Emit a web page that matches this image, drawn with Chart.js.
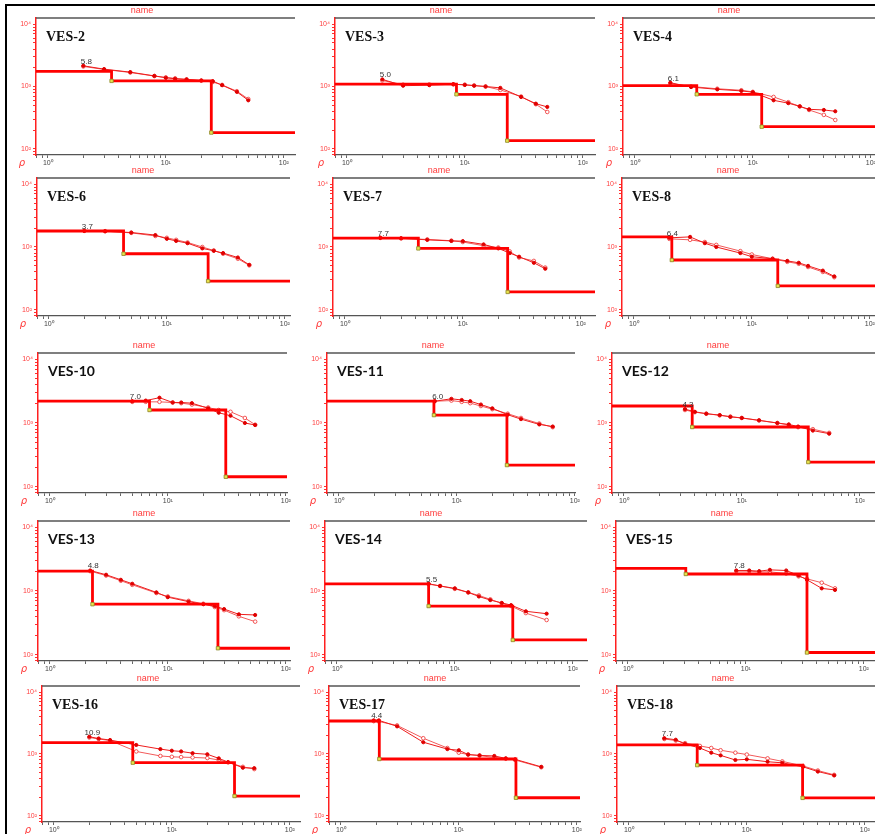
<!DOCTYPE html>
<html>
<head>
<meta charset="utf-8">
<script src="https://cdn.jsdelivr.net/npm/chart.js@4.4.0/dist/chart.umd.min.js"></script>
<style>
  html, body { margin: 0; padding: 0; background: #fff; }
  #sheet { position: relative; width: 875px; height: 834px; overflow: hidden; background: #fff; }
  #frame { position: absolute; left: 5px; top: 4px; right: -10px; bottom: -10px;
           border-left: 2px solid #000; border-top: 2px solid #000; }
  #sheet canvas { position: absolute; }
</style>
</head>
<body>
<div id="sheet"><div id="frame"></div></div>
<script>
// sounding names and fit error label, in reading order (3 per row)
const panelNames = ['VES-2', 'VES-3', 'VES-4', 'VES-6', 'VES-7', 'VES-8', 'VES-10', 'VES-11',
                    'VES-12', 'VES-13', 'VES-14', 'VES-15', 'VES-16', 'VES-17', 'VES-18'];
const rmsLabels = ['5.8', '5.0', '6.1', '3.7', '7.7', '6.4', '7.0', '6.0', '4.3', '4.8', '5.5', '7.8', '10.9', '4.4', '7.7'];

// layered model: resistivity of each layer (ohm.m) and depth of the interfaces (m)
const layerRho = [
  [1750, 1230, 182], [1090, 750, 135], [1035, 750, 226],
  [1800, 780, 286], [1390, 950, 192], [1450, 620, 240],
  [2210, 1600, 143], [2210, 1330, 218], [1850, 865, 243],
  [2060, 620, 126], [1290, 580, 170], [2270, 1850, 108],
  [1525, 723, 209], [3420, 830, 196], [1400, 660, 195]
];
const layerDepth = [
  [3.47, 24.3], [8.5, 22.9], [3.35, 11.9],
  [4.3, 22.4], [4.2, 24], [2.1, 16.6],
  [7.0, 31], [6.4, 26.6], [3.8, 36.6],
  [2.3, 26.6], [6.0, 31], [3.1, 33],
  [4.67, 34], [2.12, 30.5], [3.8, 29.7]
];

// field curve: AB/2 spacing, observed and calculated apparent resistivity
const spacingAB2 = [
  [2, 3, 5, 8, 10, 12, 15, 20, 25, 30, 40, 50],
  [2, 3, 5, 8, 10, 12, 15, 20, 30, 40, 50],
  [2, 3, 5, 8, 10, 15, 20, 25, 30, 40, 50],
  [2, 3, 5, 8, 10, 12, 15, 20, 25, 30, 40, 50],
  [2, 3, 5, 8, 10, 15, 20, 25, 30, 40, 50],
  [2, 3, 4, 5, 8, 10, 15, 20, 25, 30, 40, 50],
  [5, 6.5, 8.5, 11, 13, 16, 22, 27, 34, 45, 55],
  [6.5, 9, 11, 13, 16, 20, 27, 35, 50, 65],
  [3.3, 4, 5, 6.5, 8, 10, 14, 20, 25, 30, 40, 55],
  [2.2, 3, 4, 5, 8, 10, 15, 20, 25, 30, 40, 55],
  [6, 7.5, 10, 13, 16, 20, 25, 30, 40, 60],
  [8.3, 10.7, 13, 16, 22, 28, 33, 44, 57],
  [2, 2.4, 3, 5, 8, 10, 12, 15, 20, 25, 30, 40, 50],
  [1.9, 2.1, 3, 5, 8, 10, 12, 15, 20, 25, 30, 50],
  [2, 2.5, 3, 4, 5, 6, 8, 10, 15, 20, 30, 40, 55]
];
const rhoObserved = [
  [2150, 1900, 1700, 1480, 1380, 1330, 1300, 1250, 1220, 1050, 820, 600],
  [1300, 1030, 1050, 1090, 1060, 1030, 1000, 950, 680, 530, 470],
  [1150, 980, 900, 850, 810, 600, 540, 480, 430, 420, 400],
  [1800, 1780, 1700, 1550, 1350, 1250, 1150, 950, 870, 800, 680, 520],
  [1400, 1380, 1300, 1250, 1240, 1100, 950, 800, 700, 560, 450],
  [1400, 1450, 1150, 1000, 800, 700, 650, 600, 560, 500, 420, 340],
  [2200, 2250, 2500, 2100, 2100, 2050, 1700, 1450, 1300, 1000, 930],
  [2200, 2400, 2300, 2200, 1950, 1700, 1350, 1150, 950, 880],
  [1650, 1500, 1400, 1330, 1250, 1200, 1100, 1000, 950, 880, 760, 680],
  [2100, 1800, 1500, 1300, 950, 800, 680, 620, 580, 520, 430, 420],
  [1300, 1200, 1100, 950, 820, 720, 650, 600, 480, 440],
  [2100, 2100, 2050, 2150, 2100, 1750, 1500, 1100, 1040],
  [1900, 1780, 1680, 1400, 1200, 1130, 1100, 1030, 990, 850, 740, 600, 590],
  [3500, 3500, 2800, 1550, 1200, 1150, 980, 950, 930, 850, 820, 620],
  [1800, 1700, 1450, 1250, 1050, 950, 800, 820, 750, 720, 620, 520, 450]
];
const rhoCalculated = [
  [2100, 1880, 1680, 1470, 1400, 1350, 1300, 1240, 1180, 1060, 840, 630],
  [1250, 1070, 1080, 1080, 1070, 1040, 1000, 880, 690, 520, 390],
  [1120, 1000, 920, 870, 820, 680, 560, 480, 420, 350, 290],
  [1820, 1790, 1680, 1500, 1400, 1300, 1180, 1000, 880, 780, 650, 510],
  [1400, 1370, 1320, 1260, 1200, 1050, 980, 850, 680, 600, 470],
  [1350, 1300, 1200, 1080, 860, 760, 650, 580, 540, 480, 400, 330],
  [2150, 2150, 2150, 2100, 2050, 1950, 1750, 1600, 1500, 1200, 940],
  [2200, 2250, 2150, 2050, 1850, 1650, 1400, 1200, 980, 860],
  [1600, 1480, 1400, 1320, 1260, 1200, 1100, 1000, 930, 860, 800, 700],
  [2050, 1750, 1450, 1250, 930, 820, 700, 630, 560, 500, 400, 330],
  [1280, 1200, 1080, 950, 850, 740, 640, 580, 450, 350],
  [2050, 2050, 2000, 2000, 1880, 1700, 1550, 1350, 1100],
  [1850, 1750, 1650, 1100, 930, 900, 890, 880, 860, 800, 730, 620, 570],
  [3400, 3350, 2900, 1800, 1250, 1050, 980, 940, 880, 840, 800, 610],
  [1750, 1650, 1500, 1350, 1250, 1150, 1050, 980, 850, 760, 640, 540, 460]
];

// page layout: plot-area edges of every panel
const rowTop = [18, 178, 353, 521, 686];
const rowBottom = [155, 316, 493, 661, 822];
const colLeft = [[36, 335, 623], [37, 333, 622], [38, 327, 612], [38, 325, 616], [42, 329, 617]];
const colRight = [[295, 595, 875], [290, 595, 875], [287, 575, 875], [290, 587, 875], [300, 580, 875]];
const serifRows = [true, true, false, false, true];
const DECADE_X = 118;
const PAD_L = 32, PAD_T = 14, PAD_B = 14, PAD_R = 8;

const SUP = { 0: '\u2070', 1: '\u00b9', 2: '\u00b2', 3: '\u00b3', 4: '\u2074' };
function powLabel(v) {
  const e = Math.log10(v);
  if (Math.abs(e - Math.round(e)) < 1e-6 && SUP[Math.round(e)]) return '10' + SUP[Math.round(e)];
  return '';
}
function logTicks(min, max) {
  const out = [];
  for (let e = -1; e <= 4; e++) {
    for (let m = 1; m <= 9; m++) {
      const v = m * Math.pow(10, e);
      if (v >= min * 0.999 && v <= max * 1.001) out.push({ value: v });
    }
  }
  return out;
}

// texts around each plot
const panelDecor = {
  id: 'panelDecor',
  afterDraw(chart, args, opts) {
    const { ctx, chartArea: { left, top, right, bottom } } = chart;
    const xs = chart.scales.x, ys = chart.scales.y;
    ctx.save();
    ctx.strokeStyle = '#555';
    ctx.lineWidth = 1.3;
    ctx.beginPath();
    ctx.moveTo(left, top);
    ctx.lineTo(right, top);
    ctx.stroke();

    ctx.fillStyle = '#ff3b3b';
    ctx.textAlign = 'center';
    ctx.font = '9px "Liberation Sans"';
    ctx.fillText('name', left + 106, top - 5);
    ctx.font = 'italic 10px "DejaVu Sans"';
    ctx.fillText('\u03c1', left - 14, bottom + 11);

    ctx.fillStyle = '#111';
    ctx.textAlign = 'left';
    ctx.font = opts.serif ? 'bold 14px "Liberation Serif"' : 'bold 14px Lato';
    ctx.fillText(opts.title, left + 10, top + 23);

    ctx.fillStyle = '#333';
    ctx.textAlign = 'center';
    ctx.font = '8px "Liberation Sans"';
    ctx.fillText(opts.rms, xs.getPixelForValue(opts.rmsAt[0]) + 3, ys.getPixelForValue(opts.rmsAt[1]) - 2);
    ctx.restore();
  }
};

const sheet = document.getElementById('sheet');

panelNames.forEach(function (name, i) {
  const row = Math.floor(i / 3), col = i % 3;
  const L = colLeft[row][col], R = colRight[row][col];
  const T = rowTop[row], B = rowBottom[row];

  const xmin = Math.pow(10, -0.1);
  const xmax = Math.pow(10, (R - L) / DECADE_X - 0.1);
  const ymin = Math.pow(10, 1.9), ymax = Math.pow(10, 4.1);

  const cv = document.createElement('canvas');
  cv.width = R - L + PAD_L + PAD_R;
  cv.height = B - T + PAD_T + PAD_B;
  cv.style.left = (L - PAD_L) + 'px';
  cv.style.top = (T - PAD_T) + 'px';
  sheet.appendChild(cv);

  // step model: top layer from the surface, last layer open to the right
  const rho = layerRho[i], dep = layerDepth[i];
  const modelPts = [{ x: 0.1, y: rho[0] }];
  dep.forEach((d, k) => modelPts.push({ x: d, y: rho[k + 1] }));
  modelPts.push({ x: 1000, y: rho[rho.length - 1] });

  const ab = spacingAB2[i];
  const obsPts = ab.map((a, k) => ({ x: a, y: rhoObserved[i][k] }));
  const calcPts = ab.map((a, k) => ({ x: a, y: rhoCalculated[i][k] }));

  new Chart(cv, {
    type: 'line',
    data: {
      datasets: [
        {
          label: 'model', data: modelPts, stepped: 'before',
          borderColor: '#ff0000', borderWidth: 2.8,
          pointStyle: 'rect',
          pointRadius: c => (c.dataIndex > 0 && c.dataIndex < modelPts.length - 1) ? 2.4 : 0,
          pointBackgroundColor: '#e8e24c', pointBorderColor: '#8c8a2c', pointBorderWidth: 0.8,
          order: 0
        },
        {
          label: 'observed', data: obsPts,
          borderColor: '#ee1c1c', borderWidth: 1, tension: 0,
          pointRadius: 1.6, pointBackgroundColor: '#e00000', pointBorderColor: '#e00000',
          order: 1
        },
        {
          label: 'calculated', data: calcPts,
          borderColor: '#f25a5a', borderWidth: 1, tension: 0,
          pointRadius: 1.8, pointBackgroundColor: '#ffffff', pointBorderColor: '#f03030', pointBorderWidth: 0.8,
          order: 2
        }
      ]
    },
    options: {
      responsive: false,
      animation: false,
      devicePixelRatio: 1,
      layout: { padding: { top: PAD_T, right: PAD_R, bottom: 0, left: 0 } },
      plugins: {
        legend: { display: false },
        tooltip: { enabled: false },
        panelDecor: { title: name, rms: rmsLabels[i], rmsAt: [ab[0], rhoObserved[i][0]], serif: serifRows[row] }
      },
      scales: {
        x: {
          type: 'logarithmic', position: 'bottom', min: xmin, max: xmax,
          afterBuildTicks: s => { s.ticks = logTicks(xmin, xmax); },
          afterFit: s => { s.height = PAD_B; },
          ticks: { autoSkip: false, maxRotation: 0, padding: 1, color: '#444',
                   font: { size: 7, family: 'Liberation Sans' }, callback: v => powLabel(v) },
          grid: { drawOnChartArea: false, drawTicks: true, tickLength: 3, color: '#666', lineWidth: 1 },
          border: { color: '#555', width: 1.3 }
        },
        y: {
          type: 'logarithmic', position: 'left', min: ymin, max: ymax,
          afterBuildTicks: s => { s.ticks = logTicks(ymin, ymax); },
          afterFit: s => { s.width = PAD_L; },
          ticks: { autoSkip: false, padding: 2, color: '#ff4040',
                   font: { size: 7, family: 'Liberation Sans' }, callback: v => powLabel(v) },
          grid: { drawOnChartArea: false, drawTicks: true, tickLength: 3, color: '#ff3030', lineWidth: 1 },
          border: { color: '#ff2020', width: 1.5 }
        }
      }
    },
    plugins: [panelDecor]
  });
});
</script>
</body>
</html>
